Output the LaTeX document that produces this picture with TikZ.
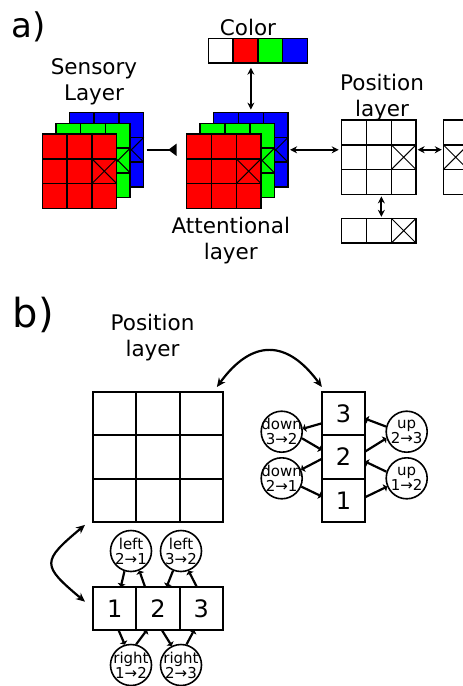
\documentclass[tikz,border=0pt]{standalone}
\usepackage{fontspec}
\setmainfont{DejaVu Sans}
\usetikzlibrary{positioning,arrows.meta}
\definecolor{cred}{HTML}{FF0000}
\definecolor{cgreen}{HTML}{00FF00}
\definecolor{cblue}{HTML}{0000FF}
\newcommand{\crosscell}[1]{\draw[crossline] (#1.north west) -- (#1.south east) (#1.north east) -- (#1.south west);}
\tikzset{
  cell/.style={draw,line width=1.5pt,minimum size=24.8pt,inner sep=0pt,outer sep=0pt},
  crossline/.style={line width=1pt},
  bigcell/.style={draw,line width=2pt,minimum size=43.3pt,inner sep=0pt,outer sep=0pt,font=\fontsize{24}{24}\selectfont},
  op/.style={circle,draw,line width=1.6pt,minimum size=41pt,inner sep=0pt},
  optext/.style={font=\fontsize{15}{15}\selectfont,align=center,inner sep=0pt},
  title/.style={font=\fontsize{21.5}{26}\selectfont,align=center,inner sep=0pt},
  panel/.style={anchor=base west,inner sep=0pt},
  dbl/.style={line width=2pt,{Stealth[length=7pt,width=7pt]}-{Stealth[length=7pt,width=7pt]}},
  block/.style={line width=2.4pt,-{Triangle[reversed,length=8.5pt,width=12pt]}},
  link/.style={line width=2.2pt,-{Triangle[length=3pt,width=8pt]}},
  swing/.style={line width=2.2pt,{Stealth[length=9pt,width=8pt]}-{Stealth[length=9pt,width=8pt]}},
}
\begin{document}
\begin{tikzpicture}[x=1pt,y=1pt]
        \useasboundingbox (0,0) rectangle (463,-686);
        \clip (0,0) rectangle (463,-686);
        % ---------- a) ----------
        \node[panel,font=\fontsize{34}{34}\selectfont] (taga) at (11,-37) {a)};
        \node[title] (senslbl) at (94,-81.7) {Sensory\\Layer};
        \node[title] (colorlbl) at (248,-27.2) {Color};
        \node[title] (poslbl) at (382,-98) {Position\\layer};
        \node[title] (attlbl) at (230.8,-240.9) {Attentional\\layer};
        % sensory and attentional stacks, blue at the back, red in front
        \foreach \stk/\xo in {sens/42.3,att/186.7}{
          \foreach \lay/\col/\dx/\dy in {B/cblue/27/21.4,G/cgreen/13.5/10.7,R/cred/0/0}{
            \foreach \r in {1,2,3}
              \foreach \c in {1,2,3}
                \node[cell,fill=\col] (\stk\lay\r\c) at ({\xo+\dx+12.4+24.8*(\c-1)},{-134+\dy-12.4-24.8*(\r-1)}) {};
            \crosscell{\stk\lay23}
          }
        }
        % color code
        \foreach \col [count=\i] in {white,cred,cgreen,cblue}
          \node[cell,fill=\col] (color\i) at ({208.3+12.4+24.8*(\i-1)},-50.8) {};
        % position layer with its row and column read-outs
        \foreach \r in {1,2,3}
          \foreach \c in {1,2,3}
            \node[cell] (pos\r\c) at ({341.7+12.4+24.8*(\c-1)},{-120-12.4-24.8*(\r-1)}) {};
        \crosscell{pos23}
        \foreach \k in {1,2,3}
          \node[cell] (hor\k) at ({341.7+12.4+24.8*(\k-1)},-230.7) {};
        \crosscell{hor3}
        \foreach \k in {1,2,3}
          \node[cell] (ver\k) at (455.7,{-120-12.4-24.8*(\k-1)}) {};
        \crosscell{ver2}
        % links
        \draw[block,shorten <=3pt,shorten >=10pt] (sensB23.east) -- (sensB23.east -| attR21.west);
        \draw[dbl,shorten <=4.5pt,shorten >=3pt] (attB12.north |- color2.south) -- (attB12.north);
        \draw[dbl,shorten <=2pt,shorten >=3pt] (attB23.east) -- (attB23.east -| pos21.west);
        \draw[dbl,shorten <=1.5pt,shorten >=1.5pt] ([yshift=7.5pt]pos23.east) -- ([yshift=7.5pt]ver2.west);
        \draw[dbl,shorten <=2pt,shorten >=1.5pt] ([xshift=2.5pt]pos32.south) -- ([xshift=2.5pt]hor2.north);
        % ---------- b) ----------
        \node[panel,font=\fontsize{40}{40}\selectfont] (tagb) at (12.7,-327) {b)};
        \node[title] (gridlbl) at (152.5,-337.7) {Position\\layer};
        \foreach \r in {1,2,3}
          \foreach \c in {1,2,3}
            \node[bigcell] (grid\r\c) at ({93+21.65+43.3*(\c-1)},{-392-21.65-43.3*(\r-1)}) {};
        \foreach \k [count=\i] in {3,2,1}
          \node[bigcell] (col\k) at (343.5,{-392-21.65-43.3*(\i-1)}) {\k};
        \foreach \k in {1,2,3}
          \node[bigcell] (row\k) at ({93+21.65+43.3*(\k-1)},-608.3) {\k};
        % shift units
        \node[op,label={[optext]center:down\\3→2}] (down32) at (281.7,-431.7) {};
        \node[op,label={[optext]center:down\\2→1}] (down21) at (281.7,-478.3) {};
        \node[op,label={[optext]center:up\\2→3}] (up23) at (406.7,-431.7) {};
        \node[op,label={[optext]center:up\\1→2}] (up12) at (406.7,-478.3) {};
        \node[op,label={[optext]center:left\\2→1}] (left21) at (131,-551) {};
        \node[op,label={[optext]center:left\\3→2}] (left32) at (181,-551) {};
        \node[op,label={[optext]center:right\\1→2}] (right12) at (131,-665) {};
        \node[op,label={[optext]center:right\\2→3}] (right23) at (181,-665) {};
        \draw[link] (col3.204) -- (down32.8);
        \draw[link] (down32.-18) -- (col2.162);
        \draw[link] (col2.185) -- (down21.24);
        \draw[link] (down21.-23) -- (col1.170);
        \draw[link] (col2.14) -- (up23.198);
        \draw[link] (up23.166) -- (col3.-13);
        \draw[link] (col1.8) -- (up12.203);
        \draw[link] (up12.162) -- (col2.-12);
        \draw[link] (row2.121) -- (left21.-67);
        \draw[link] (left21.-108) -- (row1.74);
        \draw[link] (row3.102) -- (left32.-69);
        \draw[link] (left32.-112) -- (row2.68);
        \draw[link] (row1.-80) -- (right12.107);
        \draw[link] (right12.76) -- (row2.-117);
        \draw[link] (row2.-80) -- (right23.116);
        \draw[link] (right23.75) -- (row3.-108);
        % grid to read-outs
        \draw[swing] ([shift={(-6pt,5pt)}]grid13.north east) to[out=54,in=126,looseness=1.45] ([yshift=5pt]col3.north west);
        \draw[swing] ([shift={(-8pt,-3pt)}]grid31.south west) to[out=220,in=140,looseness=1.9] ([shift={(-8pt,6.6pt)}]row1.west);
\end{tikzpicture}
\end{document}
